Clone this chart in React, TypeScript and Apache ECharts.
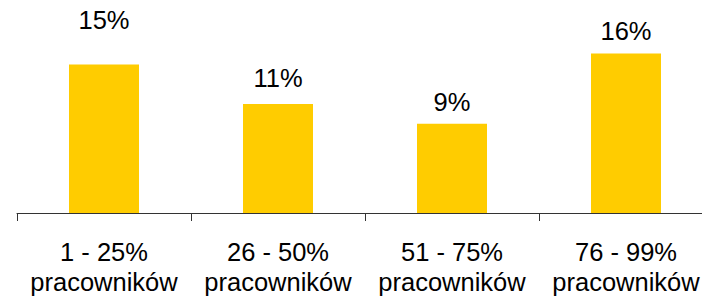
import React, { useEffect, useRef } from "react";
import * as echarts from "echarts";

const categories = ["1 - 25%\npracowników", "26 - 50%\npracowników", "51 - 75%\npracowników", "76 - 99%\npracowników"];
const values = [15, 11, 9, 16.1];
const valueLabels = ["15%", "11%", "9%", "16%"];
const labelDistances = [31, 13, 9, 9];

export default function App() {
  const ref = useRef<HTMLDivElement>(null);
  useEffect(() => {
    if (!ref.current) return;
    const chart = echarts.init(ref.current, undefined, { renderer: "svg" });
    chart.setOption({
      animation: false,
      backgroundColor: "#ffffff",
      grid: { left: 17, top: 0, width: 696, height: 213, containLabel: false },
      xAxis: {
        type: "category",
        data: categories,
        axisLine: { show: true, lineStyle: { color: "#333333", width: 1 } },
        axisTick: { show: true, length: 8, alignWithLabel: false, lineStyle: { color: "#333333" } },
        axisLabel: {
          color: "#000000",
          fontFamily: "Liberation Sans, Arial, sans-serif",
          fontSize: 25.5,
          lineHeight: 30,
          margin: 24,
          interval: 0,
        },
      },
      yAxis: {
        type: "value",
        min: 0,
        max: 21.5,
        show: false,
        splitLine: { show: false },
      },
      series: [
        {
          type: "bar",
          barWidth: 70,
          itemStyle: { color: "#FFCC00" },
          data: values.map((v, i) => ({
            value: v,
            label: {
              show: true,
              position: "top",
              distance: labelDistances[i],
              formatter: () => valueLabels[i],
              color: "#000000",
              fontFamily: "Liberation Sans, Arial, sans-serif",
              fontSize: 25.5,
            },
          })),
        },
      ],
    });
    return () => chart.dispose();
  }, []);
  return (
    <div style={{ position: "fixed", left: 0, top: 0, width: 702, height: 297, overflow: "hidden", background: "#fff" }}>
      <div ref={ref} style={{ position: "absolute", left: 0, top: 0, width: 730, height: 297 }} />
    </div>
  );
}
